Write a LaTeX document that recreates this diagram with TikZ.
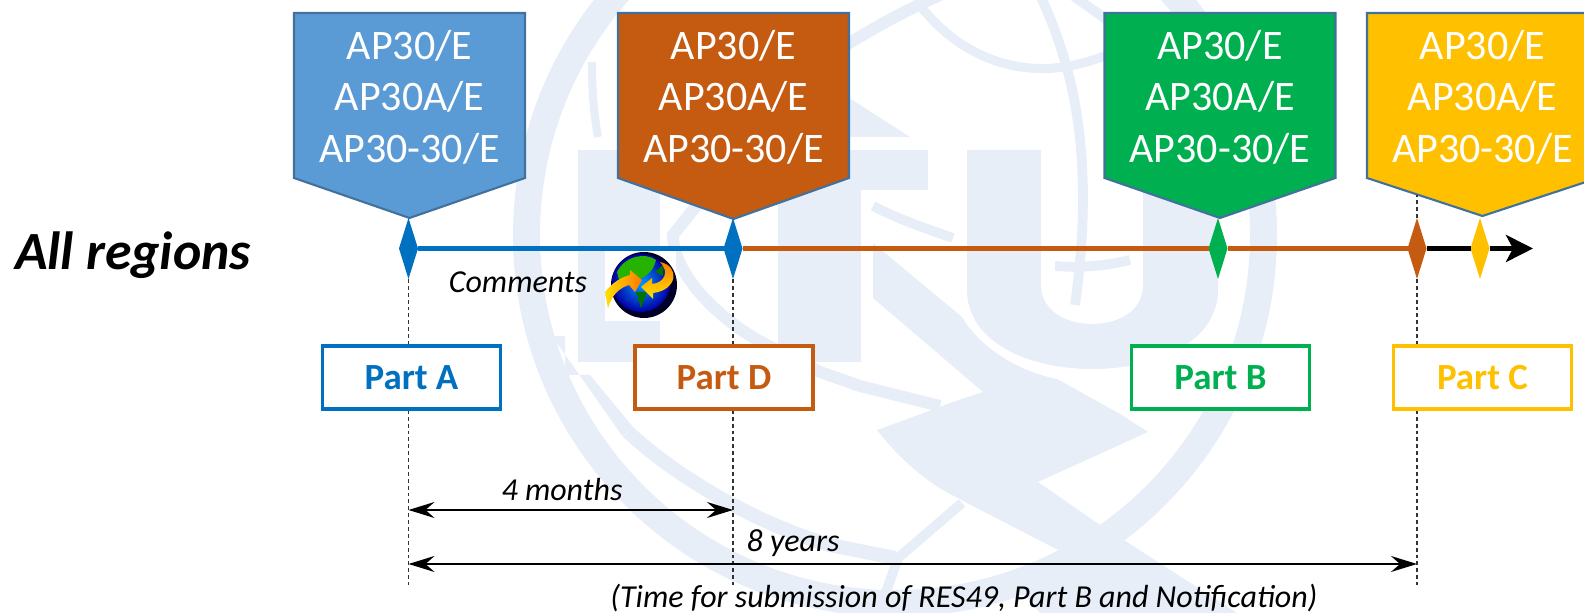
\documentclass[tikz,border=0pt]{standalone}
\usepackage{fontspec}
\setmainfont{Carlito}
\usetikzlibrary{arrows.meta,shapes.geometric}
\definecolor{wmark}{HTML}{E7EEF8}
\definecolor{tagedge}{HTML}{41719C}
\definecolor{itublue}{HTML}{5B9BD5}
\definecolor{linkblue}{HTML}{0070C0}
\definecolor{rust}{HTML}{C55A11}
\definecolor{leaf}{HTML}{00B050}
\definecolor{amber}{HTML}{FFC000}
\tikzset{
	tagtext/.style={text=white, align=center, inner sep=0pt, font=\fontsize{11.95}{14.65}\selectfont},
	partbox/.style={draw=#1, text=#1, fill=white, line width=1.05pt, minimum width=1.78cm, minimum height=0.63cm, inner sep=0pt, font=\fontsize{10.5}{12}\selectfont\bfseries},
	gem/.style={diamond, fill=#1, minimum width=0.19cm, minimum height=0.61cm, inner sep=0pt, outer sep=0pt},
	note/.style={inner sep=0pt, font=\fontsize{9.1}{11}\selectfont\itshape},
	guide/.style={dash pattern=on 4pt*0.28 off 3pt*0.28, line width=0.4pt, color=black!80},
	span/.style={line width=0.7pt, {Stealth[length=0.26cm,width=0.16cm,inset=0.09cm]}-{Stealth[length=0.26cm,width=0.16cm,inset=0.09cm]}},
	wband/.style={draw=wmark, line width=#1}
}
\def\tagbox[#1](#2:#3)#4{
	\draw[line width=0.6pt, color=tagedge, fill=#1] (#2-1.155,0.13) -- (#2+1.155,0.13) -- (#2+1.155,1.78) -- (#2,#3) -- (#2-1.155,1.78) -- cycle;
	\node[tagtext] (#4) at (#2,0.97) {AP30/E\\AP30A/E\\AP30-30/E};
}

\begin{document}
\begin{tikzpicture}[y=-1cm]
	\clip (0,0) rectangle (15.84,6.13);

	%%%%% WATERMARK %%%%%
	\fill[wmark, even odd rule] (8.95,2.35) circle (3.82) (8.95,2.35) circle (3.55);
	\fill[wmark] (5.78,1.50) rectangle (6.60,3.62);
	\fill[wmark] (7.10,1.50) rectangle (9.28,1.90);
	\fill[wmark] (7.78,1.50) rectangle (8.61,3.62);
	\fill[wmark] (9.67,1.50) -- (10.41,1.50) -- (10.41,2.85) .. controls (10.41,3.1) and (10.65,3.24) .. (10.92,3.24) .. controls (11.2,3.24) and (11.43,3.1) .. (11.43,2.85) -- (11.43,1.50) -- (12.18,1.50) -- (12.18,2.9) .. controls (12.18,3.4) and (11.6,3.69) .. (10.92,3.69) .. controls (10.25,3.69) and (9.67,3.4) .. (9.67,2.9) -- cycle;
	\fill[wmark] (8.40,0.92) -- (9.10,1.37) -- (8.40,1.37) -- cycle;
	\fill[wmark] (8.73,2.43) -- (9.62,3.17) .. controls (9.8,3.48) and (10.2,3.72) .. (10.57,3.79) -- (11.20,4.14) -- (11.48,4.32) -- (10.38,4.82) -- (11.03,5.27) -- (11.27,5.42) -- (12.37,6.13) -- (10.40,6.13) -- (10.07,5.75) -- (10.62,5.52) -- (9.67,5.03) -- (9.58,4.98) .. controls (9.3,4.85) and (9.0,4.6) .. (8.77,4.30) -- (9.32,4.10) -- (9.50,4.03) -- (9.83,3.92) -- (8.73,2.98) -- cycle;
	\fill[wmark] (5.52,3.36) -- (5.65,3.36) -- (5.65,3.75) -- (5.90,3.75) -- (6.33,4.27) -- (6.23,4.37) -- cycle;
	\draw[wband=3.4pt] (6.97,2.05) -- (6.73,2.35) .. controls (6.73,2.75) and (7.2,3.2) .. (7.63,3.43) -- (8.2,3.72) -- (8.6,3.86) -- (9.4,4.06);
	\draw[wband=4pt] (6.28,4.32) .. controls (6.8,4.8) and (7.6,5.25) .. (8.3,5.45) -- (8.95,5.58);
	\draw[wband=2.8pt] (9.62,5.03) -- (8.98,5.58) -- (8.85,5.95);
	\draw[wband=2.3pt] (5.92,0.62) .. controls (5.92,0.85) and (5.93,1.1) .. (5.98,1.37);
	\draw[wband=2.8pt] (8.73,2.06) .. controls (9.0,2.2) and (9.3,2.3) .. (9.53,2.38);
	\draw[wband=3.4pt] (8.30,0.55) .. controls (8.7,0.3) and (9.0,0.13) .. (9.40,-0.05);
	\draw[wband=2.6pt] (9.22,0.08) .. controls (9.6,0.55) and (10.1,0.72) .. (10.55,0.68) .. controls (10.75,0.66) and (10.95,0.6) .. (11.07,0.55);
	\draw[wband=2.8pt] (10.40,-0.05) .. controls (10.75,0.7) and (10.95,1.6) .. (10.75,3.05);
	\draw[wband=2.8pt] (10.55,2.66) .. controls (10.8,2.68) and (11.05,2.66) .. (11.30,2.60);
	\draw[wband=2.8pt] (10.72,-0.05) -- (11.10,0.22);

	%%%%% TAGS %%%%%
	\tagbox[itublue](4.095:2.18){tagA}
	\tagbox[rust](7.335:2.19){tagD}
	\tagbox[leaf](12.20:2.18){tagB}
	\tagbox[amber](14.825:2.16){tagC}

	%%%%% TIME LINE %%%%%
	\node[gem=linkblue] (gemA) at (4.085,2.485) {};
	\node[gem=linkblue] (gemD) at (7.33,2.485) {};
	\node[gem=leaf] (gemB) at (12.18,2.485) {};
	\node[gem=rust] (gemN) at (14.17,2.485) {};
	\node[gem=amber] (gemC) at (14.80,2.485) {};
	\coordinate (lineEnd) at (15.33,2.485);
	\draw[line width=1.45pt, color=linkblue] (gemA) -- (gemD);
	\draw[line width=1.45pt, color=rust] (gemD) -- (gemB);
	\draw[line width=1.45pt, color=rust] (gemB) -- (gemN);
	\draw[line width=1.45pt] (gemN) -- (gemC);
	\draw[line width=1.45pt, -{Stealth[length=0.27cm,width=0.27cm,inset=0.07cm]}] (gemC) -- (lineEnd);

	%%%%% GUIDES %%%%%
	\coordinate (guideA) at (4.085,5.85);
	\coordinate (guideD) at (7.33,5.85);
	\coordinate (guideN) at (14.17,5.85);
	\coordinate (guideTop) at (14.17,1.95);
	\draw[guide] (gemA.south) -- (guideA);
	\draw[guide] (gemD.south) -- (guideD);
	\draw[guide] (gemN.south) -- (guideN);
	\draw[guide] (gemN.north) -- (guideTop);

	\node[partbox=linkblue] (partA) at (4.115,3.775) {Part A};
	\node[partbox=rust] (partD) at (7.24,3.775) {Part D};
	\node[partbox=leaf] (partB) at (12.205,3.775) {Part B};
	\node[partbox=amber] (partC) at (14.825,3.775) {Part C};

	%%%%% GLOBE %%%%%
	\fill[white] (6.05,2.51) rectangle (6.76,3.21);
	\fill[black!85!blue] (6.44,2.85) circle (0.33);
	\shade[inner color=cyan!60!blue, outer color=blue!65!black] (6.41,2.83) circle (0.29);
	\fill[green!65!black!85!yellow] (6.17,2.72) .. controls (6.25,2.56) and (6.45,2.52) .. (6.56,2.60) .. controls (6.52,2.78) and (6.35,2.82) .. (6.20,2.84) -- cycle;
	\fill[green!45!black] (6.36,2.92) -- (6.47,2.92) -- (6.41,3.08) -- cycle;
	\fill[green!45!black] (6.55,2.72) -- (6.64,2.64) -- (6.63,2.76) -- cycle;
	\shade[left color=yellow!75!orange, right color=orange!95!red] (6.05,2.92) .. controls (6.13,2.82) and (6.22,2.77) .. (6.30,2.75) -- (6.30,2.70) -- (6.42,2.80) -- (6.35,2.92) -- (6.29,2.85) .. controls (6.2,2.88) and (6.12,2.94) .. (6.08,3.08) -- cycle;
	\shade[top color=orange!95!red, bottom color=yellow!80!orange] (6.60,2.62) .. controls (6.80,2.66) and (6.78,2.90) .. (6.53,2.93) -- (6.53,2.99) -- (6.41,2.87) -- (6.52,2.78) -- (6.52,2.84) .. controls (6.64,2.83) and (6.70,2.72) .. (6.60,2.62) -- cycle;

	%%%%% LABELS %%%%%
	\node[inner sep=0pt, font=\fontsize{15.3}{18}\selectfont\bfseries\itshape] (allRegions) at (1.33,2.55) {All regions};
	\node[note] (comments) at (5.18,2.82) {Comments};
	\coordinate (spanAl) at (4.085,5.10);
	\coordinate (spanAr) at (7.33,5.10);
	\coordinate (spanBl) at (4.085,5.64);
	\coordinate (spanBr) at (14.17,5.64);
	\draw[span] (spanAl) -- (spanAr);
	\draw[span] (spanBl) -- (spanBr);
	\node[note] (fourMonths) at (5.62,4.90) {4 months};
	\node[note] (eightYears) at (7.93,5.43) {8 years};
	\node[note] (timeNote) at (9.64,5.98) {(Time for submission of RES49, Part B and Notification)};
\end{tikzpicture}
\end{document}
